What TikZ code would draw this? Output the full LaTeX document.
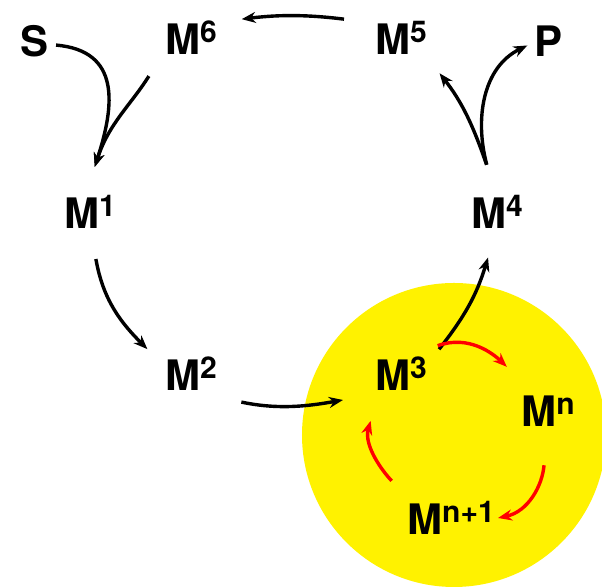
\documentclass[tikz,border=0pt]{standalone}
\usepackage{fontspec}
\setmainfont{TeX Gyre Heros}
\usetikzlibrary{arrows.meta}

\newcommand{\Mst}[1]{M\raisebox{6pt}{\fontsize{15}{17}\selectfont #1}}

\begin{document}
\begin{tikzpicture}[
			x=0.5pt, y=0.5pt,
			font=\fontsize{21}{25}\selectfont\bfseries,
			% Styles
			state/.style={circle, inner sep=0pt, minimum size=45pt},
			ends/.style={circle, inner sep=0pt, minimum size=20pt},
			rxn/.style={-{Stealth[length=7pt, width=5.5pt]}, line width=1.7pt, draw=black},
			cyc/.style={rxn, draw=red}
			]
			\useasboundingbox (0,0) rectangle (602,588);
			
			% --- Yellow region ---
			\fill[yellow] (454,153) circle[radius=76pt];
			
			% --- Outer cycle ---
			\node[ends] (S) at (35,547) {S};
			\node[state] (M6) at (191,550) {\Mst{6}};
			\node[state] (M5) at (401,550) {\Mst{5}};
			\node[ends] (P) at (549,547) {P};
			\node[state] (M1) at (90,376) {\Mst{1}};
			\node[state] (M4) at (497,376) {\Mst{4}};
			\node[state] (M2) at (191,214) {\Mst{2}};
			\node[state] (M3) at (401,214) {\Mst{3}};
			
			% --- Inner cycle ---
			\node[state] (Mn) at (548,177) {\Mst{n}};
			\node[state] (Mn1) at (451,70) {\Mst{n+1}};
			
			% Connections
			\draw[rxn] (S.-11) to[out=-5, in=72, looseness=1.3] (M1.84);
			\draw[rxn, shorten <=6pt] (M6.218) to[out=-122, in=72] (M1.84);
			\draw[rxn, shorten <=1pt, shorten >=2.5pt] (M1.-83) to[out=-80, in=135] (M2.152);
			\draw[rxn, shorten <=6.5pt, shorten >=9.5pt] (M2.-34) to[out=-12, in=190] (M3.210);
			\draw[rxn, shorten >=0.5pt] (M3.33) to[out=52, in=253] (M4.259);
			\draw[rxn, shorten <=1.5pt, shorten >=3.5pt] (M4.102) to[out=109, in=308] (M5.-41);
			\draw[rxn, shorten <=1.5pt, shorten >=0.5pt] (M4.102) to[out=105, in=206] (P.191);
			\draw[rxn, shorten <=7.5pt, shorten >=4.5pt] (M5.158) to[out=173, in=7] (M6.23);
			
			% Red loop
			\draw[cyc, shorten <=0.5pt, shorten >=7.5pt] (M3.38) to[out=20, in=136] (Mn.132);
			\draw[cyc, shorten <=4.5pt] (Mn.-94) to[out=-95, in=12] (Mn1.0);
			\draw[cyc, shorten <=12pt, shorten >=5.5pt] (Mn1.155) to[out=134, in=254] (M3.233);
			
		\end{tikzpicture}
\end{document}
